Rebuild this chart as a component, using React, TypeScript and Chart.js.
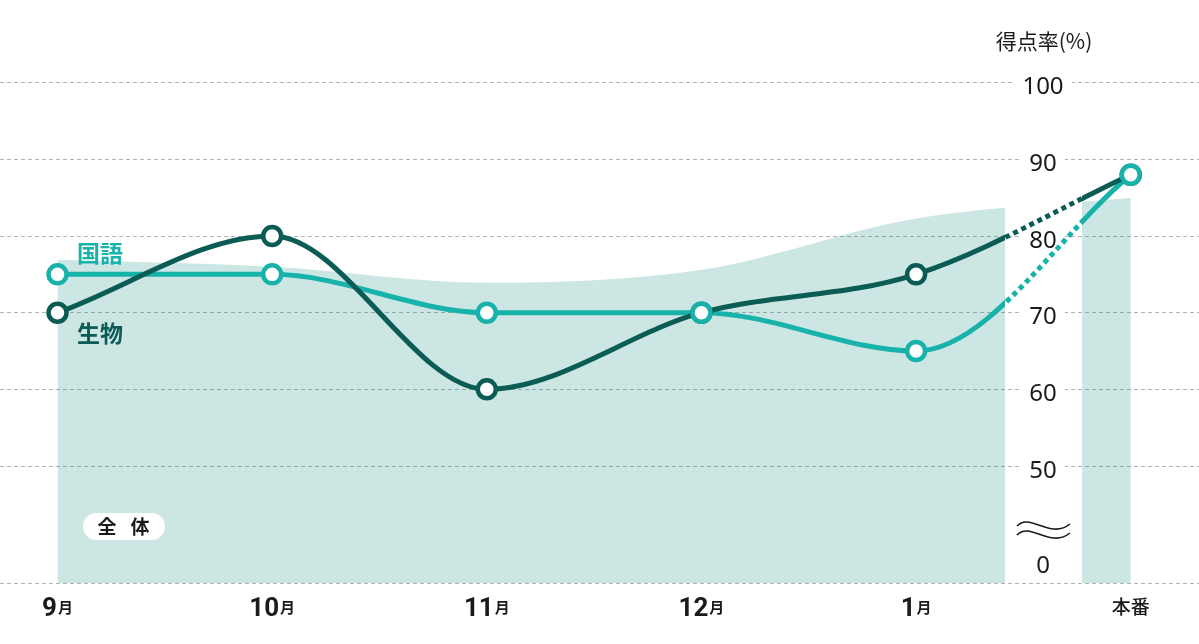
import { useEffect, useRef } from "react";
import { Chart, registerables } from "chart.js";

Chart.register(...registerables);

// --- data ---
const CATEGORIES = ["9月", "10月", "11月", "12月", "1月", "本番"];
const KOKUGO = [75, 75, 70, 70, 65, 88];
const SEIBUTSU = [70, 80, 60, 70, 75, 88];
const ZENTAI = [76.9, 76.0, 73.9, 75.6, 82.3, 85];
const Y_TICKS = [50, 60, 70, 80, 90, 100];
const BOTTOM_LABEL = "0";
const Y_TITLE = "得点率(%)";

// --- layout / style ---
const W = 1199;
const H = 644;
const Y_MIN = 34.7;
const Y_MAX = 100;
const X_MIN = -0.268;
const X_MAX = 5.318;
const AREA_END = 1005; // px where the 全体 area stops
const BAR_START = 1082; // px where the 本番 column starts
const LABEL_X = 1043;

const TEAL = "#17b3ab";
const DARK = "#0a5c55";
const FILL = "rgba(0,130,120,0.2)";
const INK = "#1a1a1a";

const toPoints = (values: number[]) => values.map((y, x) => ({ x, y }));

const clipLeft = { left: 30, right: AREA_END - W, top: 100, bottom: 30 };
const clipRight = { left: -BAR_START, right: 30, top: 100, bottom: 30 };
const clipGap = { left: -AREA_END, right: BAR_START - W, top: 100, bottom: 30 };

function lineSet(label: string, values: number[], color: string, clip: any, dashed = false) {
  return {
    label,
    data: toPoints(values),
    borderColor: color,
    borderWidth: 5,
    borderDash: dashed ? [5, 4] : [],
    borderCapStyle: "butt" as const,
    pointRadius: 0,
    fill: false,
    cubicInterpolationMode: "monotone" as const,
    clip,
  };
}

function pointSet(label: string, values: number[], color: string) {
  return {
    label,
    data: toPoints(values),
    showLine: false,
    pointRadius: 9,
    pointBorderWidth: 4.5,
    pointBorderColor: color,
    pointBackgroundColor: "#fff",
    clip: false as const,
  };
}

function areaSet(clip: any) {
  return {
    label: "全体",
    data: toPoints(ZENTAI),
    borderWidth: 0,
    backgroundColor: FILL,
    pointRadius: 0,
    fill: "start",
    cubicInterpolationMode: "monotone" as const,
    clip: { ...clip, bottom: 0 },
  };
}

const labelFont = '400 24px "Noto Sans"';

const overlay = {
  id: "overlay",
  beforeDatasetsDraw(chart: any) {
    const { ctx } = chart;
    const ys = chart.scales.y;
    ctx.save();
    ctx.font = labelFont;
    ctx.fillStyle = "#fff";
    Y_TICKS.forEach((v) => {
      const w = ctx.measureText(String(v)).width + 16;
      ctx.fillRect(LABEL_X - w / 2, ys.getPixelForValue(v) - 2, w, 4);
    });
    ctx.restore();
  },
  afterDatasetsDraw(chart: any) {
    const { ctx } = chart;
    const xs = chart.scales.x;
    const ys = chart.scales.y;
    ctx.save();
    ctx.fillStyle = INK;
    ctx.textAlign = "center";
    ctx.textBaseline = "alphabetic";

    // y labels
    ctx.font = labelFont;
    Y_TICKS.forEach((v) => ctx.fillText(String(v), LABEL_X, ys.getPixelForValue(v) + 11.5));
    ctx.fillText(BOTTOM_LABEL, LABEL_X, ys.getPixelForValue(Y_MIN) - 10);

    // break mark
    ctx.strokeStyle = INK;
    ctx.lineWidth = 1.6;
    [0, 9].forEach((dy) => {
      ctx.beginPath();
      ctx.moveTo(1017, 526 + dy);
      ctx.bezierCurveTo(1030, 512 + dy, 1050, 540 + dy, 1070, 524 + dy);
      ctx.stroke();
    });

    // axis title
    ctx.font = '400 21px "Noto Sans CJK JP"';
    ctx.fillText(Y_TITLE, 1044, 49);

    // x labels
    CATEGORIES.forEach((c, i) => {
      const x = xs.getPixelForValue(i);
      const m = c.match(/^(\d+)(月)$/);
      if (m) {
        ctx.font = "700 26px Roboto";
        const wNum = ctx.measureText(m[1]).width;
        ctx.font = '700 15px "Noto Sans CJK JP"';
        const wUnit = ctx.measureText(m[2]).width;
        const left = x - (wNum + wUnit + 1) / 2;
        ctx.textAlign = "left";
        ctx.font = "700 26px Roboto";
        ctx.fillText(m[1], left, 615.5);
        ctx.font = '700 15px "Noto Sans CJK JP"';
        ctx.fillText(m[2], left + wNum + 1, 613);
        ctx.textAlign = "center";
      } else {
        ctx.font = '500 19px "Noto Sans CJK JP"';
        ctx.fillText(c, x, 614);
      }
    });

    // series labels
    ctx.textBaseline = "middle";
    ctx.font = '700 23px "Noto Sans CJK JP"';
    ctx.fillStyle = TEAL;
    ctx.fillText("国語", 100, 253);
    ctx.fillStyle = DARK;
    ctx.fillText("生物", 100, 333);

    // 全体 pill
    ctx.fillStyle = "#fff";
    ctx.beginPath();
    ctx.roundRect(83, 513, 82, 27, 13.5);
    ctx.fill();
    ctx.fillStyle = INK;
    ctx.font = '700 19px "Noto Sans CJK JP"';
    ctx.fillText("全", 107, 527);
    ctx.fillText("体", 140, 527);

    ctx.restore();
  },
};

export default function App() {
  const canvasRef = useRef<HTMLCanvasElement>(null);

  useEffect(() => {
    if (!canvasRef.current) return;
    const chart = new Chart(canvasRef.current, {
      type: "line",
      data: {
        datasets: [
          pointSet("国語", KOKUGO, TEAL),
          pointSet("生物", SEIBUTSU, DARK),
          lineSet("生物", SEIBUTSU, DARK, clipLeft),
          lineSet("生物", SEIBUTSU, DARK, clipRight),
          lineSet("生物", SEIBUTSU, DARK, clipGap, true),
          lineSet("国語", KOKUGO, TEAL, clipLeft),
          lineSet("国語", KOKUGO, TEAL, clipRight),
          lineSet("国語", KOKUGO, TEAL, clipGap, true),
          areaSet(clipLeft),
          areaSet(clipRight),
        ] as any,
      },
      options: {
        animation: false,
        responsive: true,
        maintainAspectRatio: false,
        layout: { autoPadding: false, padding: { top: 82.7, bottom: 60.7, left: 0, right: 0 } },
        plugins: {
          legend: { display: false },
          tooltip: { enabled: false },
        },
        scales: {
          x: { type: "linear", min: X_MIN, max: X_MAX, display: false },
          y: {
            type: "linear",
            min: Y_MIN,
            max: Y_MAX,
            afterBuildTicks: (s: any) => {
              s.ticks = [Y_MIN, ...Y_TICKS].map((value) => ({ value }));
            },
            ticks: { display: false },
            grid: { color: "#b3b3b3", lineWidth: 1, drawTicks: false },
            border: { display: false, dash: [4, 3] },
          },
        },
      },
      plugins: [overlay],
    });
    return () => chart.destroy();
  }, []);

  return (
    <div style={{ position: "fixed", left: 0, top: 0, width: W, height: H, background: "#fff" }}>
      <canvas ref={canvasRef} />
    </div>
  );
}
